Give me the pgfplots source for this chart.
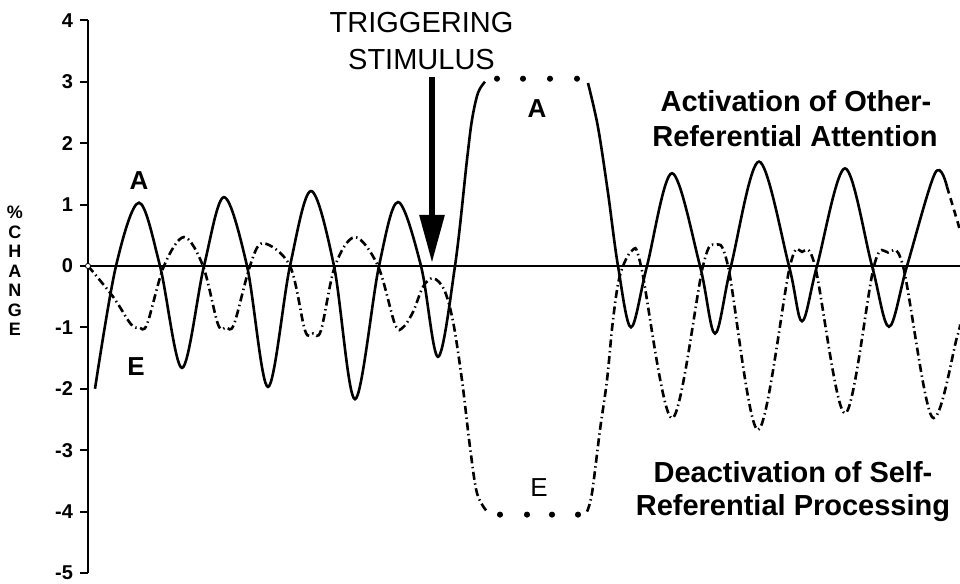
\documentclass[border=0pt]{standalone}
\usepackage{fontspec}
\setmainfont{Liberation Sans}
\usepackage{pgfplots}
\pgfplotsset{compat=1.18}
\usetikzlibrary{arrows.meta}

\begin{document}
\begin{tikzpicture}
\begin{axis}[
  scale only axis, width=436pt, height=276.3pt,
  xmin=88, xmax=960, ymin=-5, ymax=4,
  axis x line=none, axis y line=left,
  y axis line style={-, line width=1pt},
  ytick={-5,-4,-3,-2,-1,0,1,2,3,4},
  yticklabels={-5,-4,-3,-2,-1,0,1,2,3,4},
  tick align=outside, major tick length=4pt,
  ytick style={line width=1pt, black},
  yticklabel style={font=\fontsize{10}{11}\selectfont\bfseries},
  clip=false,
]
% zero line
\addplot[line width=0.8pt] coordinates {(88,0) (960,0)};

% E : self-referential (dash-dot)
\addplot[line width=1.3pt, smooth, tension=0.55, dash pattern=on 4pt off 1.8pt on 0.7pt off 1.8pt] coordinates {
(88,0) (113,-0.5) (131,-0.95) (139,-1.0) (147,-0.95) (164,0) (184,0.47) (203,0)
(218,-0.95) (226,-1.0) (234,-0.95) (250,0) (263,0.37) (290,0)
(305,-1.05) (313,-1.1) (321,-1.05) (335,0) (355,0.47) (378,0)
(395,-0.95) (403,-1.0) (413,-0.75) (423,-0.34) (433,-0.2) (444,-0.38) (453,-0.9)
(462,-1.86) (470,-2.95) (477,-3.7) (487,-4.0)};
\addplot[line width=1.3pt, smooth, tension=0.55, dash pattern=on 4pt off 1.8pt on 0.7pt off 1.8pt] coordinates {
(587,-4.0) (592,-3.7) (600,-2.67) (607,-1.86) (613,-0.88) (620,-0.15) (632,0.25) (641,0)
(672,-2.48) (703,0) (715,0.34) (728,0) (758,-2.67) (790,0) (802,0.23) (815,0)
(845,-2.4) (874,0) (888,0.22) (903,0) (932,-2.46) (957,-1.16) (960,-0.95)};
\addplot[only marks, mark=*, mark size=1.3pt] coordinates {
(500,-4.05) (527,-4.05) (552,-4.05) (578,-4.05)};

% A : other-referential (solid)
\addplot[line width=1.3pt, smooth, tension=0.55] coordinates {
(95,-2.0) (116,0) (139,1.03) (160,0) (182,-1.66) (204,0) (224,1.12) (247,0)
(268,-1.97) (290,0) (311,1.22) (334,0) (355,-2.17) (379,0) (398,1.04) (421,0)
(438,-1.48) (455,0) (467,1.73) (472,2.38) (478,2.82) (485,3.0)};
\addplot[line width=1.3pt, smooth, tension=0.55] coordinates {
(588,2.98) (598,2.26) (608,1.19) (618,0) (631,-1.0) (647,0) (672,1.51) (700,0)
(715,-1.1) (731,0) (759,1.7) (789,0) (802,-0.9) (817,0) (845,1.59) (872,0)
(889,-0.99) (907,0) (935,1.51) (947,1.29)};
\addplot[line width=1.3pt, smooth, dash pattern=on 3.5pt off 2.5pt] coordinates {
(947,1.29) (957,0.75) (960,0.58)};
\addplot[only marks, mark=*, mark size=1.3pt] coordinates {
(497,3.05) (523,3.05) (550,3.05) (577,3.05)};

% origin marker
\addplot[only marks, mark=*, mark size=1.3pt, mark options={fill=white, draw=black, line width=0.4pt}] coordinates {(88,0)};

% arrow
\draw[line width=3pt, -{Triangle[length=24pt, width=12pt]}] (axis cs:432,3.08) -- (axis cs:432,0.05);

% texts
\node[font=\fontsize{14.5}{16}\selectfont] at (axis cs:421.5,3.96) {TRIGGERING};
\node[font=\fontsize{14.5}{16}\selectfont] at (axis cs:421.5,3.37) {STIMULUS};
\node[anchor=base, font=\fontsize{14.5}{16}\selectfont\bfseries] at (axis cs:796,2.51) {Activation of Other-};
\node[anchor=base, font=\fontsize{14.5}{16}\selectfont\bfseries] at (axis cs:795,1.94) {Referential Attention};
\node[anchor=base, font=\fontsize{14.5}{16}\selectfont\bfseries] at (axis cs:793,-3.53) {Deactivation of Self-};
\node[anchor=base, font=\fontsize{14.5}{16}\selectfont\bfseries] at (axis cs:793,-4.06) {Referential Processing};
\node[anchor=base, font=\fontsize{13}{14}\selectfont\bfseries] at (axis cs:139,1.24) {A};
\node[anchor=base, font=\fontsize{13}{14}\selectfont\bfseries] at (axis cs:136,-1.78) {E};
\node[anchor=base, font=\fontsize{13}{14}\selectfont\bfseries] at (axis cs:537,2.41) {A};
\node[anchor=base, font=\fontsize{13}{14}\selectfont] at (axis cs:539,-3.76) {E};
\node[align=center, font=\fontsize{9}{9.75}\selectfont\bfseries] at (axis cs:15,-0.08) {\%\\C\\H\\A\\N\\G\\E};

\coordinate (bbbl) at (axis cs:0,-5.17);
\coordinate (bbtr) at (axis cs:960,4.332);
\end{axis}
\pgfresetboundingbox
\useasboundingbox (bbbl) rectangle (bbtr);
\end{tikzpicture}
\end{document}
